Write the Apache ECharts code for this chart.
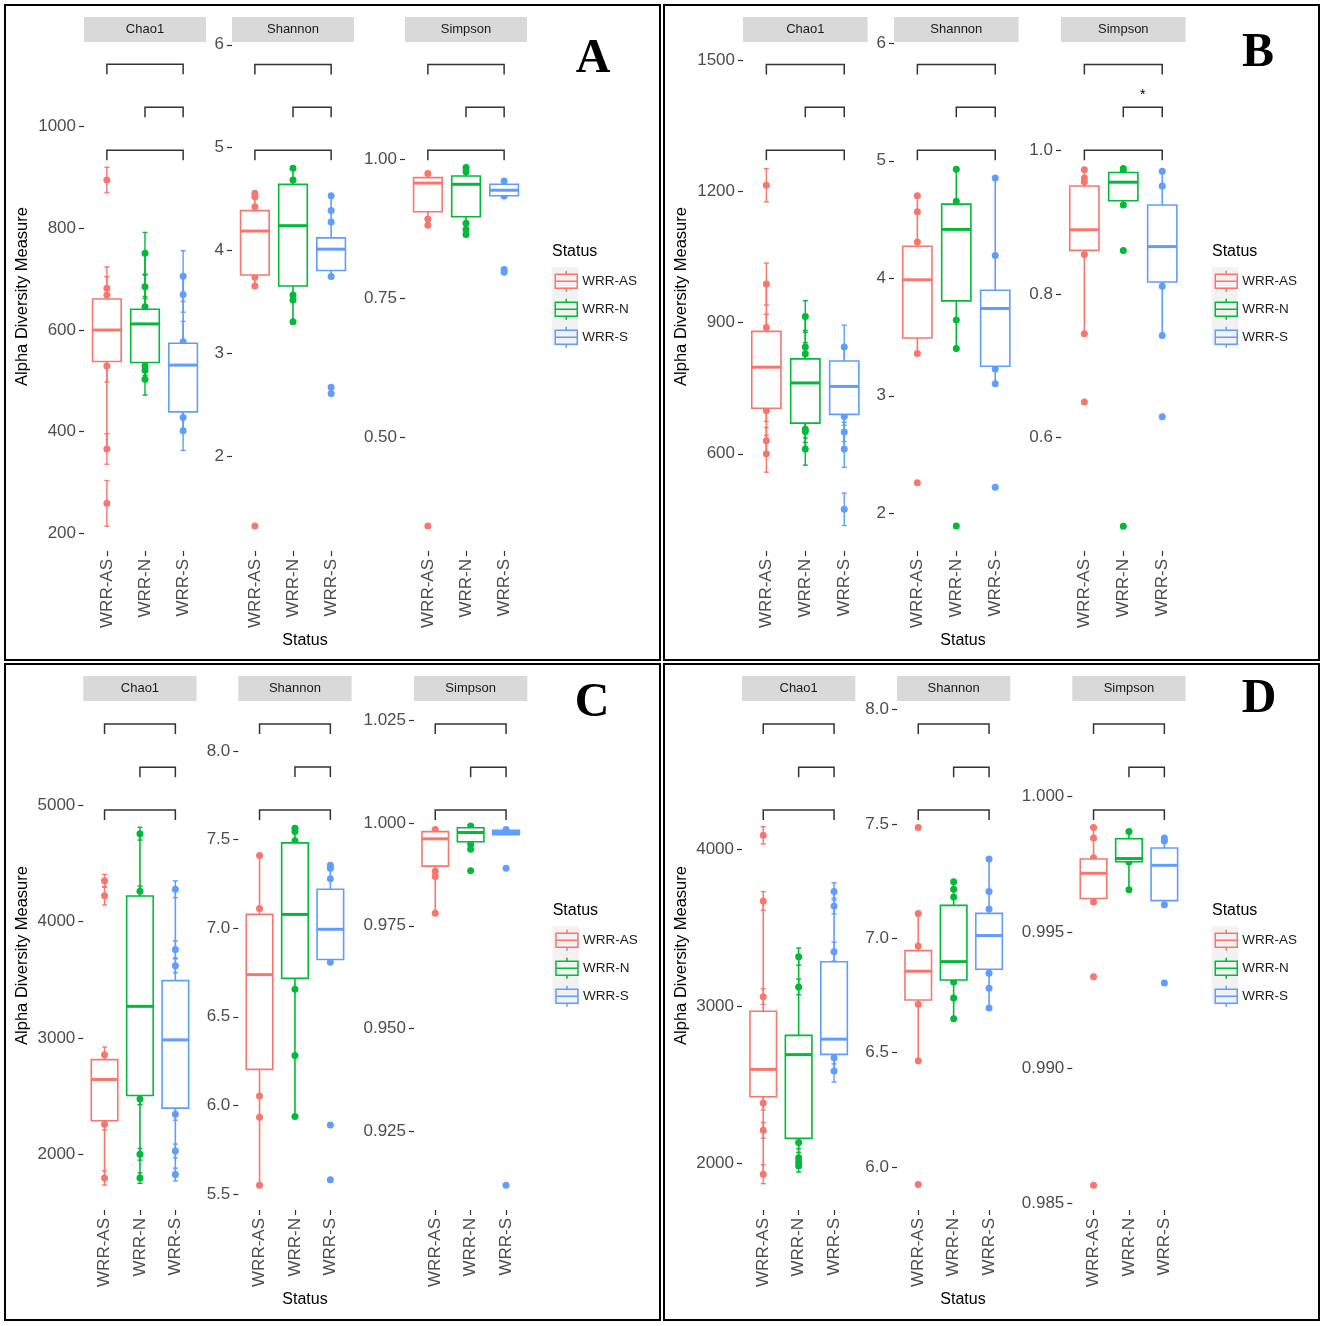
<!DOCTYPE html>
<html><head><meta charset="utf-8">
<script src="https://cdn.jsdelivr.net/npm/echarts@6/dist/echarts.min.js"></script>
<style>html,body{margin:0;padding:0;background:#fff}#c{width:1325px;height:1326px}</style>
</head><body><div id="c"></div><script>
// ---------------- DATA ----------------
const statuses = ['WRR-AS', 'WRR-N', 'WRR-S'];
const measures = ['Chao1', 'Shannon', 'Simpson'];
const panels = ['A', 'B', 'C', 'D'];
const bracketPairs = [[0, 2], [1, 2], [0, 2]];
const noSig = ['', '', ''];

// box = [lower whisker, Q1, median, Q3, upper whisker] per status
// ---- Panel A ----
const A_chao1_box = [[366, 538, 600, 661, 682], [503, 536, 612, 641, 751], [402, 439, 531, 574, 706]];
const A_chao1_pts = [[895, 682, 669, 529, 366, 259], [751, 685, 646, 529, 521, 503], [706, 670, 577, 428, 402]];
const A_chao1_se = [[25, 42, 36, 31, 30, 45], [41, 23, 20, 18, 22, 31], [50, 35, 40, 30, 39]];
const A_chao1_ticks = ['200', '400', '600', '800', '1000'];
const A_chao1_range = [165.3, 1166.6];
const A_chao1_br = [1122.6, 1038.2, 953.6];

const A_shannon_box = [[3.656, 3.763, 4.19, 4.388, 4.557], [3.309, 3.656, 4.242, 4.644, 4.80], [3.746, 3.806, 4.014, 4.124, 4.534]];
const A_shannon_pts = [[4.557, 4.524, 4.427, 3.741, 3.656, 1.324], [4.80, 4.686, 3.569, 3.52, 3.309], [4.534, 4.39, 4.278, 3.748, 2.673, 2.611]];
const A_shannon_ticks = ['2', '3', '4', '5', '6'];
const A_shannon_range = [1.081, 6.027];
const A_shannon_br = [5.8095, 5.3926, 4.9747];

const A_simpson_box = [[0.8814, 0.9056, 0.957, 0.9668, 0.9743], [0.8648, 0.8965, 0.9548, 0.9698, 0.985], [0.934, 0.9343, 0.9442, 0.9548, 0.9607]];
const A_simpson_pts = [[0.9743, 0.8927, 0.8814, 0.3414], [0.985, 0.9774, 0.8851, 0.8738, 0.8648], [0.9607, 0.934, 0.802, 0.797]];
const A_simpson_ticks = ['0.50', '0.75', '1.00'];
const A_simpson_range = [0.2967, 1.2102];
const A_simpson_br = [1.16996, 1.0930, 1.0158];

// ---- Panel B ----
const B_chao1_box = [[600, 704, 798, 880, 988], [611, 670, 762, 817, 914], [611, 690, 754, 812, 844]];
const B_chao1_pts = [[1214, 988, 889, 699, 630, 600], [914, 844, 829, 656, 651, 611], [844, 685, 650, 611, 473]];
const B_chao1_se = [[38, 48, 30, 25, 30, 42], [36, 38, 25, 20, 25, 37], [50, 20, 22, 42, 37]];
const B_chao1_ticks = ['600', '900', '1200', '1500'];
const B_chao1_range = [377.7, 1541.6];
const B_chao1_br = [1490.4, 1392.3, 1294];

const B_shannon_box = [[3.36, 3.492, 3.987, 4.273, 4.703], [3.403, 3.808, 4.416, 4.631, 4.929], [3.102, 3.252, 3.743, 3.898, 4.854]];
const B_shannon_pts = [[4.703, 4.567, 4.309, 3.36, 2.26], [4.929, 4.656, 3.646, 3.403, 1.891], [4.854, 4.194, 3.227, 3.102, 2.221]];
const B_shannon_ticks = ['2', '3', '4', '5', '6'];
const B_shannon_range = [1.679, 6.011];
const B_shannon_br = [5.820, 5.455, 5.089];

const B_simpson_box = [[0.7446, 0.8607, 0.8894, 0.9503, 0.9731], [0.9239, 0.9297, 0.9556, 0.969, 0.9748], [0.7424, 0.8167, 0.866, 0.9239, 0.9708]];
const B_simpson_pts = [[0.9731, 0.9614, 0.9562, 0.8549, 0.7446, 0.6498], [0.9748, 0.9702, 0.9239, 0.8607, 0.477], [0.9708, 0.9503, 0.8109, 0.7424, 0.6293]];
const B_simpson_ticks = ['0.6', '0.8', '1.0'];
const B_simpson_range = [0.4424, 1.1507];
const B_simpson_br = [1.1195, 1.0598, 1.0000];
const B_simpson_sig = ['', '*', ''];

// ---- Panel C ----
const C_chao1_box = [[1796, 2288, 2643, 2813, 2856], [1796, 2505, 3271, 4219, 4754], [1826, 2397, 2983, 3492, 4277]];
const C_chao1_pts = [[4349, 4222, 2856, 2259, 1796], [4754, 4259, 2476, 2000, 1796], [4277, 3760, 3619, 2343, 2028, 1826]];
const C_chao1_se = [[55, 80, 65, 50, 60], [55, 45, 50, 50, 45], [72, 73, 60, 50, 60, 55]];
const C_chao1_ticks = ['2000', '3000', '4000', '5000'];
const C_chao1_range = [1521.5, 5894];
const C_chao1_br = [5696.7, 5325.6, 4957];

const C_shannon_box = [[5.549, 6.203, 6.738, 7.078, 7.4105], [5.937, 6.717, 7.078, 7.482, 7.565], [6.808, 6.823, 6.994, 7.22, 7.356]];
const C_shannon_pts = [[7.4105, 7.111, 6.052, 5.932, 5.549], [7.565, 7.546, 7.494, 6.655, 6.282, 5.937], [7.356, 7.339, 7.28, 6.808, 5.889, 5.58]];
const C_shannon_ticks = ['5.5', '6.0', '6.5', '7.0', '7.5', '8.0'];
const C_shannon_range = [5.409, 8.283];
const C_shannon_br = [8.1536, 7.9097, 7.6674];

const C_simpson_box = [[0.97805, 0.98955, 0.9962, 0.99795, 0.99846], [0.99364, 0.99549, 0.99773, 0.99888, 0.9993], [0.99722, 0.99722, 0.99773, 0.99827, 0.99846]];
const C_simpson_pts = [[0.99846, 0.9883, 0.987, 0.97805], [0.9993, 0.99488, 0.99364, 0.9884], [0.99846, 0.98903, 0.9118]];
const C_simpson_ticks = ['0.925', '0.950', '0.975', '1.000', '1.025'];
const C_simpson_range = [0.90575, 1.02978];
const C_simpson_br = [1.02417, 1.01365, 1.00319];

// ---- Panel D ----
const D_chao1_box = [[1927, 2421, 2596, 2967, 3670], [1981, 2156, 2690, 2813, 3315], [2585, 2692, 2789, 3283, 3731]];
const D_chao1_pts = [[4089, 3670, 3060, 2381, 2207, 1927], [3315, 3122, 2129, 2032, 2005, 1981], [3731, 3638, 3347, 2671, 2585]];
const D_chao1_se = [[55, 60, 50, 45, 50, 60], [55, 50, 40, 35, 40, 40], [55, 50, 60, 40, 70]];
const D_chao1_ticks = ['2000', '3000', '4000'];
const D_chao1_range = [1699, 4946];
const D_chao1_br = [4800, 4523.8, 4250];

const D_shannon_box = [[6.465, 6.730, 6.856, 6.946, 7.108], [6.648, 6.818, 6.898, 7.144, 7.2475], [6.695, 6.865, 7.012, 7.109, 7.347]];
const D_shannon_pts = [[7.485, 7.108, 6.966, 6.712, 6.465, 5.923], [7.2475, 7.214, 7.181, 6.809, 6.739, 6.648], [7.347, 7.205, 7.128, 6.847, 6.782, 6.695]];
const D_shannon_ticks = ['6.0', '6.5', '7.0', '7.5', '8.0'];
const D_shannon_range = [5.812, 8.0376];
const D_shannon_br = [7.9375, 7.7481, 7.5606];

const D_simpson_box = [[0.996123, 0.996248, 0.997177, 0.997704, 0.998869], [0.996572, 0.997603, 0.99772, 0.998449, 0.998714], [0.996016, 0.996171, 0.997472, 0.998109, 0.998482]];
const D_simpson_pts = [[0.998869, 0.998482, 0.997752, 0.996123, 0.993362, 0.985682], [0.998714, 0.997597, 0.996572], [0.998482, 0.998371, 0.996016, 0.99313]];
const D_simpson_ticks = ['0.985', '0.990', '0.995', '1.000'];
const D_simpson_range = [0.984768, 1.003527];
const D_simpson_br = [1.002683, 1.001087, 0.999506];

// ---------------- LAYOUT / STYLE ----------------
const colors = ['#F8766D', '#00BA38', '#619CFF'];
const FONT = '"Liberation Sans", Arial, Helvetica, sans-serif';
const layout = {
  A: {strips: [84, 232, 405], sw: 122, stripTop: 17, top: 42, bottom: 551, yTitle: [22, 296.5], xTitle: [305, 641], legend: [552, 252], letter: [593, 60], border: [5, 5, 655, 655]},
  B: {strips: [743, 894, 1061], sw: 124.6, stripTop: 17, top: 42, bottom: 551, yTitle: [681, 296.5], xTitle: [963, 641], legend: [1212, 252], letter: [1258, 54], border: [664, 5, 655, 655]},
  C: {strips: [83.3, 238.3, 414], sw: 113.3, stripTop: 676, top: 701, bottom: 1210, yTitle: [22.5, 955.5], xTitle: [305, 1300], legend: [552.7, 911], letter: [592, 704], border: [5, 664, 655, 656]},
  D: {strips: [742, 897, 1072.3], sw: 113.3, stripTop: 676, top: 701, bottom: 1210, yTitle: [681.5, 955.5], xTitle: [963, 1300], legend: [1212, 911], letter: [1259, 700], border: [664, 664, 655, 656]}
};

const facetData = {
  A: [
    {box: A_chao1_box, pts: A_chao1_pts, se: A_chao1_se, ticks: A_chao1_ticks, range: A_chao1_range, br: A_chao1_br, sig: noSig},
    {box: A_shannon_box, pts: A_shannon_pts, se: null, ticks: A_shannon_ticks, range: A_shannon_range, br: A_shannon_br, sig: noSig},
    {box: A_simpson_box, pts: A_simpson_pts, se: null, ticks: A_simpson_ticks, range: A_simpson_range, br: A_simpson_br, sig: noSig}
  ],
  B: [
    {box: B_chao1_box, pts: B_chao1_pts, se: B_chao1_se, ticks: B_chao1_ticks, range: B_chao1_range, br: B_chao1_br, sig: noSig},
    {box: B_shannon_box, pts: B_shannon_pts, se: null, ticks: B_shannon_ticks, range: B_shannon_range, br: B_shannon_br, sig: noSig},
    {box: B_simpson_box, pts: B_simpson_pts, se: null, ticks: B_simpson_ticks, range: B_simpson_range, br: B_simpson_br, sig: B_simpson_sig}
  ],
  C: [
    {box: C_chao1_box, pts: C_chao1_pts, se: C_chao1_se, ticks: C_chao1_ticks, range: C_chao1_range, br: C_chao1_br, sig: noSig},
    {box: C_shannon_box, pts: C_shannon_pts, se: null, ticks: C_shannon_ticks, range: C_shannon_range, br: C_shannon_br, sig: noSig},
    {box: C_simpson_box, pts: C_simpson_pts, se: null, ticks: C_simpson_ticks, range: C_simpson_range, br: C_simpson_br, sig: noSig}
  ],
  D: [
    {box: D_chao1_box, pts: D_chao1_pts, se: D_chao1_se, ticks: D_chao1_ticks, range: D_chao1_range, br: D_chao1_br, sig: noSig},
    {box: D_shannon_box, pts: D_shannon_pts, se: null, ticks: D_shannon_ticks, range: D_shannon_range, br: D_shannon_br, sig: noSig},
    {box: D_simpson_box, pts: D_simpson_pts, se: null, ticks: D_simpson_ticks, range: D_simpson_range, br: D_simpson_br, sig: noSig}
  ]
};

// ---------------- BUILD ----------------
const grids = [], xAxes = [], yAxes = [], series = [], legends = [], graphics = [];
const iconPath = 'path://M0,3.5H22V17.5H0ZM0,10.5H22M11,0V3.5M11,17.5V21';

function txt(text, x, y, opts) {
  return Object.assign({
    type: 'text', x: x, y: y, z: 10,
    style: Object.assign({text: text, fill: '#1A1A1A', font: '16px ' + FONT,
      align: 'center', verticalAlign: 'middle', textAlign: 'center', textVerticalAlign: 'middle'}, opts.style || {})
  }, opts.el || {});
}

function boxRenderer(color) {
  return function (params, api) {
    const c = api.value(0);
    const lo = api.coord([c, api.value(1)]), q1 = api.coord([c, api.value(2)]),
      md = api.coord([c, api.value(3)]), q3 = api.coord([c, api.value(4)]), hi = api.coord([c, api.value(5)]);
    const bw = api.size([1, 0])[0] * 0.75;
    const x = md[0];
    return {type: 'group', children: [
      {type: 'line', shape: {x1: x, y1: hi[1], x2: x, y2: q3[1]}, style: {stroke: color, lineWidth: 1.6}},
      {type: 'line', shape: {x1: x, y1: q1[1], x2: x, y2: lo[1]}, style: {stroke: color, lineWidth: 1.6}},
      {type: 'rect', shape: {x: x - bw / 2, y: q3[1], width: bw, height: Math.max(q1[1] - q3[1], 0.5)}, style: {fill: '#fff', stroke: color, lineWidth: 1.6}},
      {type: 'line', shape: {x1: x - bw / 2, y1: md[1], x2: x + bw / 2, y2: md[1]}, style: {stroke: color, lineWidth: 3}}
    ]};
  };
}

function errRenderer(color) {
  return function (params, api) {
    const c = api.value(0), v = api.value(1), s = api.value(2);
    const t = api.coord([c, v + s]), b = api.coord([c, v - s]);
    const x = t[0];
    const st = {stroke: color, lineWidth: 1.4};
    return {type: 'group', children: [
      {type: 'line', shape: {x1: x, y1: t[1], x2: x, y2: b[1]}, style: st},
      {type: 'line', shape: {x1: x - 2.5, y1: t[1], x2: x + 2.5, y2: t[1]}, style: st},
      {type: 'line', shape: {x1: x - 2.5, y1: b[1], x2: x + 2.5, y2: b[1]}, style: st}
    ]};
  };
}

function bracketRenderer(sig) {
  return function (params, api) {
    const i = params.dataIndex;
    const a = api.coord([api.value(0), api.value(2)]);
    const b = api.coord([api.value(1), api.value(2)]);
    const ch = [{type: 'polyline', shape: {points: [[a[0], a[1] + 10], [a[0], a[1]], [b[0], b[1]], [b[0], b[1] + 10]]},
      style: {stroke: '#333', fill: 'none', lineWidth: 1.5}}];
    if (sig[i]) ch.push({type: 'text', style: {text: sig[i], x: (a[0] + b[0]) / 2, y: a[1] - 12,
      align: 'center', verticalAlign: 'middle', textAlign: 'center', textVerticalAlign: 'middle',
      font: '14px ' + FONT, fill: '#000'}});
    return {type: 'group', children: ch};
  };
}

panels.forEach(function (p) {
  const L = layout[p];
  // panel border
  graphics.push({type: 'rect', z: 20, shape: {x: L.border[0], y: L.border[1], width: L.border[2], height: L.border[3]},
    style: {fill: 'none', stroke: '#000', lineWidth: 2}});
  facetData[p].forEach(function (f, j) {
    const g = grids.length;
    const sx = L.strips[j], sw = L.sw;
    grids.push({left: sx + sw / 32, top: L.top, width: sw * 3 / 3.2, height: L.bottom - L.top,
      containLabel: false, outerBoundsMode: 'none', show: false});
    xAxes.push({type: 'category', gridIndex: g, data: statuses,
      axisLine: {show: false}, splitLine: {show: false},
      axisTick: {show: true, alignWithLabel: true, length: 5, lineStyle: {color: '#333', width: 1.2}},
      axisLabel: {rotate: 90, interval: 0, fontSize: 17, color: '#4D4D4D', margin: 8, fontFamily: FONT}});
    const tickVals = f.ticks.map(Number);
    yAxes.push({type: 'value', gridIndex: g, min: f.range[0], max: f.range[1], offset: sw / 32,
      axisLine: {show: false}, splitLine: {show: false},
      axisTick: {show: true, length: 5, customValues: tickVals, lineStyle: {color: '#333', width: 1.2}},
      axisLabel: {customValues: tickVals, fontSize: 17, color: '#4D4D4D', margin: 8, fontFamily: FONT,
        formatter: function (v) { const t = f.ticks.find(function (s) { return Math.abs(Number(s) - v) < 1e-9; }); return t === undefined ? '' : t; }}});
    // strip
    graphics.push({type: 'rect', z: 1, shape: {x: sx, y: L.stripTop, width: sw, height: 25}, style: {fill: '#D9D9D9'}});
    graphics.push(txt(measures[j], sx + sw / 2, L.stripTop + 12.5, {style: {font: '13px ' + FONT, fill: '#1A1A1A'}}));

    statuses.forEach(function (s, k) {
      if (f.se) {
        series.push({type: 'custom', name: s, xAxisIndex: g, yAxisIndex: g, z: 2, silent: true,
          itemStyle: {color: colors[k]}, renderItem: errRenderer(colors[k]),
          data: f.pts[k].map(function (v, i) { return [k, v, f.se[k][i]]; })});
      }
      series.push({type: 'scatter', name: s, xAxisIndex: g, yAxisIndex: g, z: 3, silent: true,
        symbol: 'circle', symbolSize: 7, itemStyle: {color: colors[k], opacity: 1},
        data: f.pts[k].map(function (v) { return [k, v]; })});
      series.push({type: 'custom', name: s, xAxisIndex: g, yAxisIndex: g, z: 4, silent: true,
        itemStyle: {color: colors[k]}, renderItem: boxRenderer(colors[k]),
        encode: {x: 0, y: [1, 2, 3, 4, 5]},
        data: [[k].concat(f.box[k])]});
    });
    series.push({type: 'custom', name: 'brackets', xAxisIndex: g, yAxisIndex: g, z: 5, silent: true,
      renderItem: bracketRenderer(f.sig), encode: {x: [0, 1], y: 2},
      data: bracketPairs.map(function (pr, i) { return [pr[0], pr[1], f.br[i]]; })});
  });
  // titles
  graphics.push(txt('Alpha Diversity Measure', L.yTitle[0], L.yTitle[1], {style: {font: '16.5px ' + FONT, fill: '#000'}, el: {rotation: Math.PI / 2}}));
  graphics.push(txt('Status', L.xTitle[0], L.xTitle[1], {style: {font: '16px ' + FONT, fill: '#000'}}));
  graphics.push(txt('Status', L.legend[0], L.legend[1], {style: {font: '16px ' + FONT, fill: '#000', align: 'left', textAlign: 'left'}}));
  graphics.push({type: 'rect', z: 0, shape: {x: L.legend[0] - 0.3, y: L.legend[1] + 15.3, width: 26.6, height: 78.7}, style: {fill: '#F2F2F2'}});
  graphics.push(txt(p, L.letter[0], L.letter[1], {style: {font: 'bold 48px "Liberation Serif", "Times New Roman", serif', fill: '#000'}}));
  legends.push({orient: 'vertical', left: L.legend[0] + 2.5, top: L.legend[1] + 18, padding: 0,
    itemWidth: 22, itemHeight: 21, itemGap: 5.5, itemTextGap: 10, selectedMode: false,
    textStyle: {fontSize: 13.5, color: '#1A1A1A', fontFamily: FONT},
    data: statuses.map(function (s, k) {
      return {name: s, icon: iconPath, itemStyle: {color: 'rgba(0,0,0,0)', borderColor: colors[k], borderWidth: 1.5}};
    })});
});

const chart = echarts.init(document.getElementById('c'), null, {renderer: 'canvas'});
chart.setOption({
  animation: false,
  backgroundColor: '#fff',
  textStyle: {fontFamily: FONT},
  grid: grids, xAxis: xAxes, yAxis: yAxes, series: series, legend: legends,
  graphic: {elements: graphics}
});
</script></body></html>
